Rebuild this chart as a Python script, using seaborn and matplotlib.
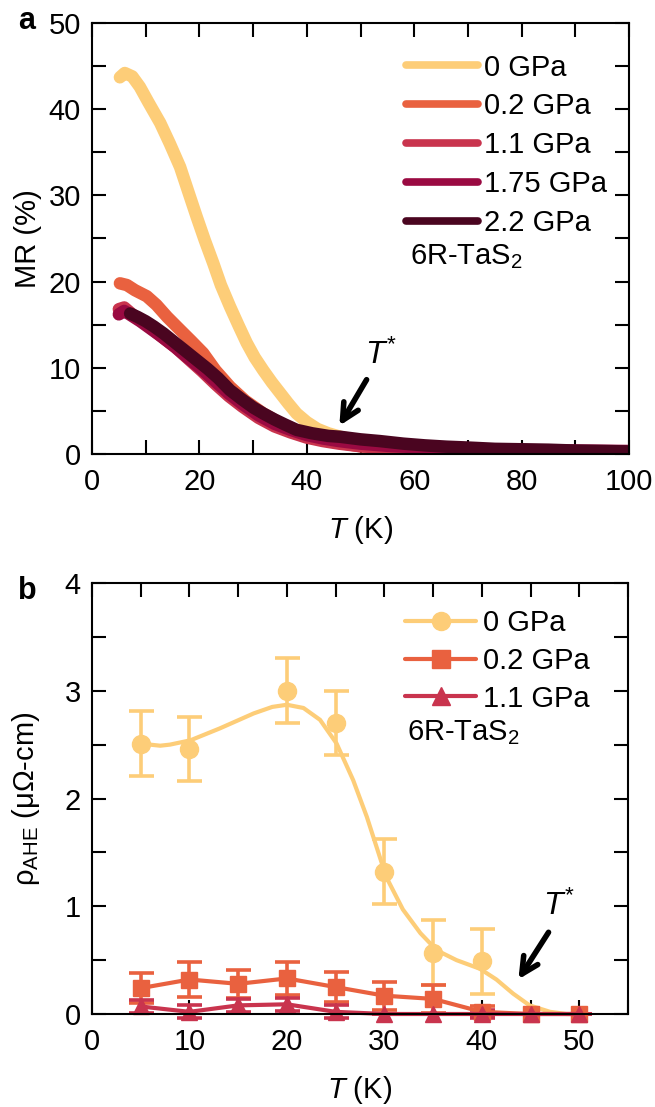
import numpy as np
import pandas as pd
import matplotlib
matplotlib.use('Agg')
import matplotlib.pyplot as plt
import seaborn as sns
from matplotlib.lines import Line2D
from matplotlib.ticker import MultipleLocator

sns.set_style('ticks')
plt.rcParams['font.family'] = ['Liberation Sans', 'DejaVu Sans']
plt.rcParams['mathtext.fontset'] = 'custom'
plt.rcParams['mathtext.rm'] = 'Liberation Sans'
plt.rcParams['mathtext.it'] = 'Liberation Sans:italic'
plt.rcParams['font.size'] = 21
for k in ['text.color', 'axes.labelcolor', 'xtick.color', 'ytick.color', 'axes.edgecolor']:
    plt.rcParams[k] = 'black'

FS = 21

# ---- panel a : MR(T) at several pressures ----
pressures_a = ['0 GPa', '0.2 GPa', '1.1 GPa', '1.75 GPa', '2.2 GPa']
colors_a = ['#FDCD78', '#E9613F', '#C9344E', '#9A0A42', '#4A0520']

T_0 = [5.2, 6.1, 7.5, 8.9, 10.5, 12.7, 14.5, 16.4, 18, 19.5, 21, 22.6, 24, 25.7, 27.3, 28.8,
       30.3, 31.9, 33.5, 35, 36.5, 38.1, 40, 42, 44, 46.2, 50, 55, 60, 70, 80, 90, 100]
MR_0 = [43.7, 44.2, 43.8, 42.6, 40.8, 38.4, 36.0, 33.3, 30.3, 27.5, 24.8, 22.1, 19.6, 17.1, 14.9, 12.9,
        11.2, 9.7, 8.3, 7.1, 5.9, 4.7, 3.7, 2.9, 2.4, 2.0, 1.5, 1.1, 0.85, 0.55, 0.4, 0.3, 0.25]

T_02 = [5.2, 6.5, 8, 10.2, 12, 14, 16.4, 18.5, 20.7, 23, 25.7, 28.5, 31.9, 35, 38, 41.2,
        45, 50, 55, 60, 70, 80, 90, 100]
MR_02 = [19.8, 19.6, 19.0, 18.3, 17.3, 15.9, 14.4, 13.1, 11.7, 9.7, 7.8, 6.2, 4.7, 3.6, 2.7, 2.0,
         1.4, 0.9, 0.7, 0.55, 0.4, 0.3, 0.25, 0.2]

T_11 = [5, 6, 7.5, 9, 11, 13, 15.5, 18, 20.5, 23, 25.5, 28, 31, 34, 37, 40, 43, 46, 50,
        55, 60, 70, 80, 90, 100]
MR_11 = [16.8, 17.0, 16.2, 15.5, 14.6, 13.6, 12.4, 11.0, 9.6, 8.1, 6.7, 5.5, 4.2, 3.2, 2.5, 1.9,
         1.5, 1.2, 0.9, 0.7, 0.55, 0.4, 0.3, 0.25, 0.2]

T_175 = [5, 6, 7.5, 9, 11, 13, 15.5, 18, 20.5, 23, 25.5, 28, 31, 34, 37, 40, 43, 46, 50,
         55, 60, 70, 80, 90, 100]
MR_175 = [16.2, 16.6, 16.0, 15.4, 14.5, 13.6, 12.4, 11.1, 9.8, 8.4, 7.0, 5.8, 4.5, 3.5, 2.8, 2.2,
          1.8, 1.5, 1.2, 0.95, 0.8, 0.6, 0.45, 0.4, 0.35]

T_22 = [7.1, 8.5, 10, 11.5, 13.3, 15.5, 17.5, 19.5, 21.5, 23.5, 25.7, 28, 30, 31.9, 34, 36,
        38.1, 41, 44, 46.2, 50, 53.6, 58, 62, 66, 70, 75, 80, 85, 90, 95, 99.5]
MR_22 = [16.3, 15.9, 15.4, 14.8, 14.0, 12.9, 11.9, 10.9, 9.9, 8.8, 7.4, 6.3, 5.4, 4.7, 4.0, 3.4,
         2.8, 2.4, 2.1, 2.0, 1.7, 1.5, 1.2, 1.0, 0.85, 0.75, 0.6, 0.55, 0.5, 0.4, 0.35, 0.3]

# ---- panel b : anomalous Hall resistivity ----
T_b = [5, 10, 15, 20, 25, 30, 35, 40, 45, 50]
T_b0 = [5, 10, 20, 25, 30, 35, 40]
rho_0 = [2.51, 2.46, 3.0, 2.7, 1.32, 0.57, 0.49]
err_0 = [0.3, 0.3, 0.3, 0.3, 0.3, 0.3, 0.3]
rho_02 = [0.24, 0.32, 0.28, 0.33, 0.25, 0.17, 0.14, 0.02, 0.0, 0.0]
err_02 = [0.14, 0.16, 0.13, 0.15, 0.14, 0.13, 0.13, 0.05, 0.0, 0.0]
rho_11 = [0.07, 0.02, 0.08, 0.09, 0.02, 0.0, 0.0, 0.0, 0.0, 0.0]
err_11 = [0.06, 0.06, 0.06, 0.06, 0.06, 0.0, 0.0, 0.04, 0.0, 0.0]
# smooth guide line through the 0 GPa points
T_fit = [4.9, 7.0, 8.0, 10.1, 13.1, 16.6, 18.5, 20.0, 21.7, 23.4, 25.1, 26.8, 28.2, 30.2, 31.9,
         33.7, 35.4, 37.4, 39.8, 41.5, 43.2, 44.9, 47.0, 48.7, 50.0]
rho_fit = [2.51, 2.49, 2.50, 2.54, 2.65, 2.79, 2.85, 2.87, 2.84, 2.73, 2.51, 2.17, 1.83, 1.27, 0.97,
           0.75, 0.59, 0.50, 0.42, 0.32, 0.19, 0.08, 0.02, 0.0, 0.0]
labels_b = ['0 GPa', '0.2 GPa', '1.1 GPa']
colors_b = ['#FDCD78', '#E9613F', '#C9344E']

W, H = 655, 1107
fig = plt.figure(figsize=(W / 100, H / 100), dpi=100)
ax_a = fig.add_axes([92 / W, 1 - 454 / H, 537 / W, 431 / H])
ax_b = fig.add_axes([92 / W, 1 - 1014 / H, 536 / W, 431 / H])

# panel a
series_a = [(T_0, MR_0), (T_02, MR_02), (T_11, MR_11), (T_175, MR_175), (T_22, MR_22)]
frames = []
for name, (t, m) in zip(pressures_a, series_a):
    frames.append(pd.DataFrame({'T': t, 'MR': m, 'P': name}))
df_a = pd.concat(frames, ignore_index=True)
sns.lineplot(data=df_a, x='T', y='MR', hue='P', hue_order=pressures_a,
             palette=colors_a, estimator=None, sort=False, linewidth=9,
             solid_capstyle='round', solid_joinstyle='round', legend=False, ax=ax_a)

handles_a = [Line2D([], [], color=c, lw=5.5, solid_capstyle='round') for c in colors_a]
ax_a.legend(handles_a, pressures_a, loc='upper left', bbox_to_anchor=(0.585, 0.929),
            frameon=False, handlelength=2.45, handletextpad=0.22, labelspacing=0.37,
            borderpad=0, borderaxespad=0, fontsize=FS)
ax_a.text(0.592, 0.457, '6R-TaS$_2$', transform=ax_a.transAxes, va='center', ha='left',
          fontsize=FS)
ax_a.annotate('', xy=(45.8, 3.0), xytext=(51.4, 8.9),
              arrowprops=dict(arrowstyle='->', lw=4, color='black', mutation_scale=30))
ax_a.text(53.8, 11.5, '$T^{*}$', fontsize=23, ha='center', va='center')

ax_a.set_xlim(0, 100)
ax_a.set_ylim(0, 50)
ax_a.xaxis.set_major_locator(MultipleLocator(20))
ax_a.xaxis.set_minor_locator(MultipleLocator(10))
ax_a.yaxis.set_major_locator(MultipleLocator(10))
ax_a.yaxis.set_minor_locator(MultipleLocator(5))
ax_a.set_xlabel('$T$ (K)', fontsize=FS, labelpad=13)
ax_a.set_ylabel('MR (%)', fontsize=FS, labelpad=5)

# panel b
sns.lineplot(x=T_fit, y=rho_fit, color=colors_b[0], linewidth=3, ax=ax_b)
ax_b.errorbar(T_b0, rho_0, yerr=err_0, fmt='o', color=colors_b[0], ms=13,
              elinewidth=2.6, capsize=9, capthick=2.6)
ax_b.errorbar(T_b, rho_02, yerr=err_02, fmt='s-', color=colors_b[1], ms=12, lw=3,
              elinewidth=2.6, capsize=9, capthick=2.6)
ax_b.errorbar(T_b, rho_11, yerr=err_11, fmt='^-', color=colors_b[2], ms=12, lw=3,
              elinewidth=2.6, capsize=9, capthick=2.6)
for a in ax_b.collections + ax_b.lines:
    a.set_clip_on(False)

markers_b = ['o', 's', '^']
handles_b = [Line2D([], [], color=c, lw=3, marker=mk, ms=13) for c, mk in zip(colors_b, markers_b)]
ax_b.legend(handles_b, labels_b, loc='upper left', bbox_to_anchor=(0.584, 0.940),
            frameon=False, handlelength=2.45, handletextpad=0.22, labelspacing=0.34,
            borderpad=0, borderaxespad=0, fontsize=FS)
ax_b.text(0.588, 0.652, '6R-TaS$_2$', transform=ax_b.transAxes, va='center', ha='left',
          fontsize=FS)
ax_b.annotate('', xy=(43.6, 0.30), xytext=(47.0, 0.78),
              arrowprops=dict(arrowstyle='->', lw=4, color='black', mutation_scale=30))
ax_b.text(47.9, 1.0, '$T^{*}$', fontsize=23, ha='center', va='center')

ax_b.set_xlim(0, 55)
ax_b.set_ylim(0, 4)
ax_b.xaxis.set_major_locator(MultipleLocator(10))
ax_b.xaxis.set_minor_locator(MultipleLocator(5))
ax_b.yaxis.set_major_locator(MultipleLocator(1))
ax_b.yaxis.set_minor_locator(MultipleLocator(0.5))
ax_b.set_xlabel('$T$ (K)', fontsize=FS, labelpad=13)
ax_b.set_ylabel('ρ$_\\mathregular{AHE}$ (μΩ-cm)', fontsize=FS, labelpad=16)

for ax in (ax_a, ax_b):
    for s in ax.spines.values():
        s.set_linewidth(1.5)
    ax.tick_params(which='both', direction='in', top=True, right=True, width=1.5,
                   length=10, labelsize=FS, color='black')
    ax.tick_params(axis='x', pad=10)
    ax.tick_params(axis='y', pad=8)

fig.text(18 / W, 1 - 6 / H, 'a', fontsize=22, fontweight='bold', va='top', ha='left')
fig.text(18 / W, 1 - 576 / H, 'b', fontsize=22, fontweight='bold', va='top', ha='left')

fig.savefig('out.png', dpi=100)
